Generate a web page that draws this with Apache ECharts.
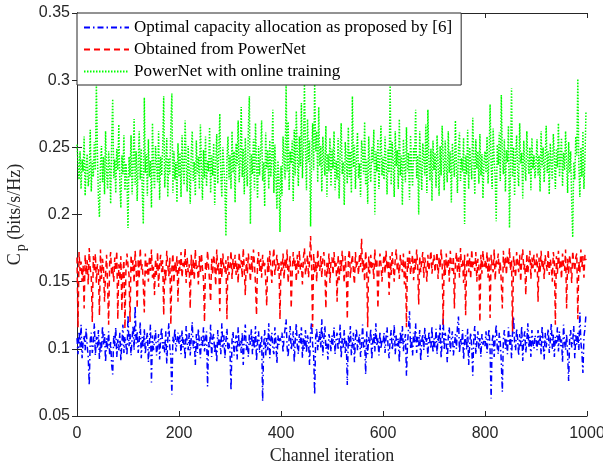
<!DOCTYPE html>
<html>
<head>
<meta charset="utf-8">
<script src="https://cdn.jsdelivr.net/npm/echarts@6/dist/echarts.min.js"></script>
<style>html,body{margin:0;padding:0;background:#fff}#c{width:603px;height:466px}</style>
</head>
<body>
<div id="c"></div>
<script>
// Channel iteration step between stored samples
const iterStep = 2;
const seriesNames = ['Optimal capacity allocation as proposed by [6]', 'Obtained from PowerNet', 'PowerNet with online training'];
const xTicks = [0, 200, 400, 600, 800, 1000];
const yTicks = [0.05, 0.1, 0.15, 0.2, 0.25, 0.3, 0.35];

// values in thousandths of bits/s/Hz
const optimalVals = [
108,96,113,101,118,93,105,110,99,115,102,94,73,107,112,97,104,119,95,109,101,114,92,106,98,117,103,111,90,108,100,113,96,105,88,81,110,102,116,94,107,99,112,91,104,118,97,109,103,95,
125,102,111,95,108,117,99,132,104,113,97,106,120,93,109,101,115,96,107,112,90,104,118,75,110,99,106,114,95,103,111,92,108,116,100,105,97,113,89,107,119,101,94,66,109,104,115,98,106,112,
103,110,96,114,101,107,92,117,105,99,112,95,108,120,100,106,88,111,97,115,104,93,109,102,116,98,107,113,72,105,100,118,94,108,111,97,104,90,114,102,107,96,119,101,110,93,106,115,99,104,
98,69,107,113,95,104,110,92,116,101,106,97,112,88,108,118,99,105,94,111,103,115,96,109,100,117,91,106,113,97,104,110,61,102,114,95,108,99,119,93,107,112,100,96,116,105,89,110,103,108,
106,112,97,109,115,122,101,94,108,117,99,105,113,90,107,119,102,96,111,104,116,93,108,100,114,97,110,105,88,112,120,103,96,66,109,115,99,106,113,101,122,95,108,117,100,104,92,111,107,98,
110,103,116,96,107,112,99,105,118,93,108,101,114,97,106,73,110,102,117,95,104,112,90,108,115,99,106,111,94,103,118,100,107,81,113,96,109,104,115,92,106,111,98,119,102,108,95,113,100,107,
104,112,97,109,116,101,93,107,114,99,105,118,96,110,102,108,90,113,104,117,98,106,111,80,103,115,128,100,108,95,112,104,119,97,109,102,114,91,106,111,99,116,103,108,94,113,105,100,117,97,
108,101,115,96,110,104,118,93,106,123,99,112,105,90,109,116,98,107,113,95,103,111,100,117,124,97,108,102,114,92,106,110,99,115,88,104,112,101,80,109,117,96,105,113,100,108,94,111,103,107,
102,113,97,108,115,99,63,106,111,94,109,118,101,96,112,105,90,68,107,114,100,108,96,116,103,110,93,112,124,104,99,115,107,95,111,102,117,91,108,113,97,106,119,101,109,94,114,104,100,110,
107,99,114,103,110,96,117,105,92,112,101,108,115,97,106,119,100,111,94,109,104,116,98,113,102,107,90,118,105,99,111,96,76,108,114,101,106,117,93,110,103,112,99,127,105,97,82,109,115,126
];
const powerNetVals = [
168,116,172,158,165,150,162,130,170,155,166,148,175,160,153,120,169,157,171,149,163,158,125,174,152,167,160,135,156,170,147,118,164,172,155,161,150,168,158,173,122,163,151,169,128,157,166,115,160,171,
162,155,120,170,158,166,149,173,160,130,167,152,175,159,163,148,127,171,156,164,150,169,158,174,153,161,140,167,155,172,146,163,170,157,166,125,159,151,173,162,154,168,118,160,171,149,165,157,169,135,
166,158,172,153,164,160,175,149,168,157,163,130,170,155,167,151,174,159,162,148,169,156,171,160,152,120,165,158,173,161,150,135,167,155,170,162,147,174,158,164,128,168,153,171,160,157,166,122,169,155,
161,173,152,167,158,170,155,164,149,172,160,166,153,175,159,140,168,156,171,162,150,169,157,174,163,148,125,165,172,158,167,153,170,160,164,151,132,168,157,173,161,149,166,175,155,162,170,158,164,122,
165,158,171,152,167,160,174,149,163,169,130,157,172,161,166,150,170,156,173,159,164,148,168,175,155,162,170,153,166,184,160,116,171,157,165,150,174,162,158,169,153,167,172,160,130,164,156,171,149,166,
168,155,172,160,164,135,170,151,166,158,173,162,149,169,157,122,167,174,153,163,170,158,148,172,160,165,155,171,161,182,157,166,150,173,162,116,169,156,170,159,164,152,174,160,167,130,158,171,163,150,
162,170,156,173,159,166,140,169,155,172,161,150,167,174,158,164,152,170,163,157,171,148,166,116,168,160,173,155,164,170,151,167,159,174,162,133,169,157,165,172,153,168,161,150,170,158,166,173,156,164,
170,157,165,172,152,168,160,174,163,118,166,155,171,159,167,150,173,162,158,169,130,164,172,156,168,153,175,161,166,149,170,125,163,171,157,168,152,174,160,165,158,172,150,167,163,120,170,156,173,161,
166,159,172,153,168,123,170,162,157,174,151,167,163,171,156,165,149,130,173,160,168,155,170,162,175,158,166,113,169,161,153,172,164,157,170,150,167,174,159,163,140,171,156,166,173,152,168,160,170,157,
164,171,135,168,157,173,160,166,152,170,163,158,174,155,167,161,150,172,165,118,169,156,173,160,166,152,171,163,158,174,130,167,155,170,162,149,173,164,158,168,171,122,165,157,174,161,169,153,170,166
];
const onlineVals = [
252,238,226,247,219,241,232,258,214,236,245,221,229,263,217,240,228,254,233,298,246,212,198,237,251,224,243,215,262,231,219,247,236,208,255,286,227,241,216,249,233,267,222,205,244,230,259,218,238,226,
190,243,228,259,215,236,271,222,247,210,238,262,226,249,217,193,287,231,245,214,256,228,240,205,268,233,219,251,237,224,262,211,243,229,250,288,220,238,257,213,242,230,266,290,216,247,226,239,209,253,
228,246,213,259,235,222,270,240,217,251,232,208,246,262,225,239,214,255,230,243,219,267,236,211,248,227,258,221,240,232,265,216,244,229,253,207,237,260,223,246,275,229,213,250,236,221,184,241,258,226,
244,219,262,231,247,209,253,236,270,224,241,280,228,249,215,257,233,221,264,288,193,245,230,256,218,268,237,212,251,229,246,270,225,239,206,261,234,248,219,255,228,243,278,216,252,231,204,240,226,187,
236,214,258,241,226,298,232,269,218,247,238,255,210,263,229,277,244,221,258,236,283,227,250,298,246,218,271,239,255,191,242,268,233,298,247,262,224,280,236,251,217,258,240,229,266,213,245,232,257,221,
249,234,262,218,240,226,257,212,245,268,230,239,207,254,241,223,265,228,247,216,288,235,252,219,243,261,227,238,213,255,246,230,269,222,241,208,258,235,224,250,239,263,200,247,232,256,219,242,266,229,
243,226,258,237,215,249,231,298,222,254,240,213,262,236,248,219,271,229,244,207,256,238,224,265,232,246,211,259,235,221,250,240,278,227,244,200,262,236,218,253,241,229,267,216,278,238,225,249,210,255,
233,246,220,259,238,214,251,229,266,243,218,255,236,224,262,231,247,209,253,240,228,270,235,216,249,261,225,242,232,257,193,244,230,263,219,250,238,226,272,241,215,256,234,247,223,260,229,245,212,239,
247,231,258,223,242,282,236,219,264,240,228,195,252,237,261,225,289,244,230,256,217,248,239,266,190,235,294,228,250,214,243,259,232,221,268,238,246,212,255,236,225,262,241,230,250,218,257,234,244,227,
238,256,229,244,217,262,235,250,224,241,266,231,247,215,253,238,226,260,243,219,249,235,268,228,242,257,221,246,233,262,240,216,254,231,247,209,183,239,226,258,244,301,236,213,250,228,262,219,241,277
];

const toPts = arr => arr.map((v, i) => [i * iterStep, v / 1000]);
const axisColor = '#262626';
const tickFont = { fontFamily: 'Liberation Sans', fontSize: 16, color: axisColor };
const yLabelFmt = v => String(parseFloat(v.toFixed(2)));
const xLabelFmt = v => String(v);

const chart = echarts.init(document.getElementById('c'), null, { renderer: 'canvas' });
chart.setOption({
  animation: false,
  backgroundColor: '#fff',
  grid: { left: 77, right: 16, top: 13, bottom: 50, containLabel: false, outerBoundsMode: 'none' },
  legend: {
    data: seriesNames,
    orient: 'vertical',
    left: 77, top: 13,
    itemWidth: 45, itemHeight: 14, itemGap: 5,
    padding: [6, 9, 5, 6],
    borderColor: axisColor, borderWidth: 1, backgroundColor: '#fff',
    itemStyle: { opacity: 0 },
    textStyle: { fontFamily: 'Liberation Serif', fontSize: 17, color: '#000' }
  },
  xAxis: [{
    type: 'value', min: 0, max: 1000, interval: 200,
    name: 'Channel iteration', nameLocation: 'middle', nameGap: 31,
    nameTextStyle: { fontFamily: 'Liberation Serif', fontSize: 18, color: axisColor },
    axisLine: { lineStyle: { color: axisColor, width: 1 } },
    axisTick: { inside: true, length: 5, lineStyle: { color: axisColor } },
    axisLabel: Object.assign({ margin: 10, formatter: xLabelFmt, hideOverlap: false }, tickFont),
    splitLine: { show: false }
  }, {
    type: 'value', position: 'top', min: 0, max: 1000, interval: 200,
    axisLine: { show: true, lineStyle: { color: axisColor, width: 1 } },
    axisTick: { inside: true, length: 5, lineStyle: { color: axisColor } },
    axisLabel: { show: false }, splitLine: { show: false }
  }],
  yAxis: [{
    type: 'value', min: 0.05, max: 0.35, interval: 0.05,
    name: '{n|C}{s|p}{n| (bits/s/Hz)}', nameLocation: 'middle', nameGap: 46,
    nameTextStyle: {
      color: axisColor,
      rich: {
        n: { fontFamily: 'Liberation Serif', fontSize: 18, color: axisColor, lineHeight: 26, verticalAlign: 'middle' },
        s: { fontFamily: 'Liberation Serif', fontSize: 14, color: axisColor, lineHeight: 26, verticalAlign: 'bottom', padding: [0, 0, 0, 2] }
      }
    },
    axisLine: { show: true, lineStyle: { color: axisColor, width: 1 } },
    axisTick: { inside: true, length: 5, lineStyle: { color: axisColor } },
    axisLabel: Object.assign({ margin: 7, formatter: yLabelFmt }, tickFont),
    splitLine: { show: false }
  }, {
    type: 'value', position: 'right', min: 0.05, max: 0.35, interval: 0.05,
    axisLine: { show: true, lineStyle: { color: axisColor, width: 1 } },
    axisTick: { inside: true, length: 5, lineStyle: { color: axisColor } },
    axisLabel: { show: false }, splitLine: { show: false }
  }],
  series: [
    { name: seriesNames[0], type: 'line', data: toPts(optimalVals), symbol: 'none', color: '#0000ff',
      lineStyle: { color: '#0000ff', width: 1.5, type: [6, 3, 1.5, 3] } },
    { name: seriesNames[1], type: 'line', data: toPts(powerNetVals), symbol: 'none', color: '#ff0000',
      lineStyle: { color: '#ff0000', width: 1.5, type: [6, 4] } },
    { name: seriesNames[2], type: 'line', data: toPts(onlineVals), symbol: 'none', color: '#00ff00',
      lineStyle: { color: '#00ff00', width: 1.5, type: [1.5, 1.5] } }
  ]
});
</script>
</body>
</html>
